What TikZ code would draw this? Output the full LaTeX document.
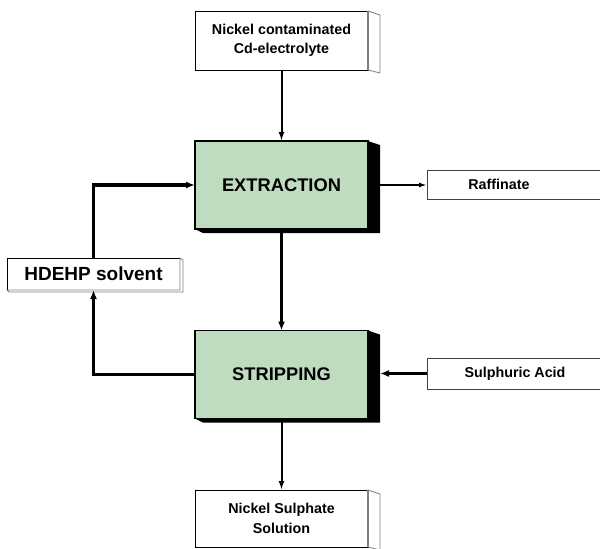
\documentclass[tikz,border=0pt]{standalone}
\usepackage{fontspec}
\setmainfont{Liberation Sans}
\usetikzlibrary{calc,arrows.meta}
\definecolor{boxgreen}{RGB}{192,220,192}
\begin{document}
\begin{tikzpicture}[x=1pt,y=-1pt,
  mainbox/.style={draw=black,line width=1.4pt,fill=boxgreen,minimum width=173pt,minimum height=88pt,inner sep=0pt,outer sep=0pt,font=\fontsize{18.3}{20}\selectfont\bfseries},
  whitebox/.style={draw=black,line width=0.8pt,fill=white,minimum width=173pt,inner sep=0pt,outer sep=0pt,align=center,font=\fontsize{14.3}{19.5}\selectfont\bfseries},
  sidelabel/.style={inner sep=0pt,outer sep=0pt,font=\fontsize{14.3}{16}\selectfont\bfseries},
  sideframe/.style={draw=black!75,line width=0.8pt},
  thinflow/.style={line width=2pt,-{Latex[length=9pt,width=6pt]}},
  thickflow/.style={line width=3.2pt,-{Latex[length=9pt,width=7pt]}},
  shadow3d/.style={fill=black},
  side3d/.style={draw=gray,line width=0.8pt,fill=white},
]
\useasboundingbox (0,0) rectangle (600,549);
\clip (0,0) rectangle (600,549);
\fill[white] (0,0) rectangle (600,549);

% nodes
\node[whitebox,minimum height=59pt] (feed) at (281.5,40.5) {Nickel contaminated\\Cd-electrolyte};
\node[mainbox] (ext) at (281.5,185) {EXTRACTION};
\node[mainbox] (str) at (281.5,374.5) {STRIPPING};
\node[whitebox,minimum height=57pt] (prod) at (281.5,518.5) {Nickel Sulphate\\Solution};
\node[whitebox,minimum height=32pt,font=\fontsize{19}{20}\selectfont\bfseries] (sol) at (93.5,274) {HDEHP solvent};
\node[sidelabel,minimum width=144pt,minimum height=29pt] (raf) at (499,184.5) {Raffinate};
\node[sidelabel,minimum width=176pt,minimum height=31pt] (acid) at (515,373.5) {Sulphuric Acid};

% open frames of the side boxes (they run off the right edge)
\draw[sideframe] (610,170) -- (raf.north west) -- (raf.south west) -- (610,199);
\draw[sideframe] (610,358) -- (acid.north west) -- (acid.south west) -- (610,389);

% 3D sides
\draw[side3d] (feed.north east) -- ++(12,4) -- ($(feed.south east)+(12,3)$) -- (feed.south east) -- cycle;
\draw[gray,line width=1.4pt] (feed.north east) -- (feed.south east);
\draw[side3d] (prod.north east) -- ++(12,4) -- ($(prod.south east)+(12,3)$) -- (prod.south east) -- cycle;
\draw[gray,line width=1.4pt] (prod.north east) -- (prod.south east);
\draw[side3d] (sol.north east) -- ++(3,2) -- ($(sol.south east)+(3,2)$) -- ($(sol.south west)+(2,2)$) -- (sol.south west) -- (sol.south east) -- cycle;

% connectors
\coordinate (strside) at ($(str.east)+(12,0)$);
\draw[thinflow] (feed.south) -- (ext.north);
\draw[thinflow,-{Latex[length=8pt,width=5pt]}] (ext.east) -- (ext.east -| raf.west);
\draw[thickflow] (ext.south) -- (str.north);
\draw[thickflow] (str.west) -- (str.west -| sol.south) -- (sol.south);
\draw[thickflow] (sol.north) -- (sol.north |- ext.west) -- (ext.west);
\draw[thickflow,line width=2.6pt] (acid.west) -- (acid.west -| strside);
\draw[thinflow] (str.south) -- (prod.north);

% dark 3D shadows of the process boxes
\fill[shadow3d] (ext.north east) -- ++(12,4) -- ($(ext.south east)+(12,4)$) -- ($(ext.south west)+(8,4)$) -- (ext.south west) -- (ext.south east) -- cycle;
\fill[shadow3d] (str.north east) -- ++(12,4) -- ($(str.south east)+(12,4)$) -- ($(str.south west)+(8,4)$) -- (str.south west) -- (str.south east) -- cycle;
\end{tikzpicture}
\end{document}
